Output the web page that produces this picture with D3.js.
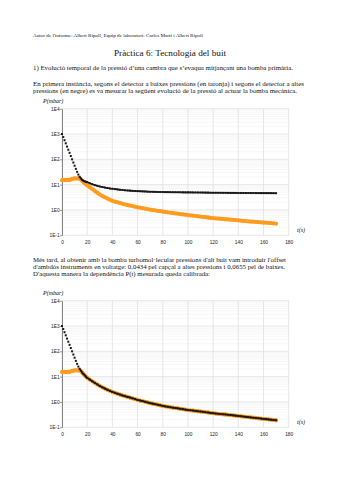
<!DOCTYPE html>
<html><head><meta charset="utf-8">
<script src="https://cdn.jsdelivr.net/npm/d3@7"></script>
<style>body{margin:0;background:#fff}svg{display:block}</style>
</head><body>
<svg id="c" width="339" height="480"></svg>
<script>
const times = [0,1,2,3,4,5,6,7,8,9,10,11,12,13,14,15,16,17,18,19,
20,22,24,26,28,30,32,34,36,38,40,42,44,46,48,50,52,54,56,58,60,62,64,66,68,70,72,74,76,78,80,82,84,86,88,90,92,94,96,98,100,102,104,106,108,110,112,114,116,118,120,122,124,126,128,130,132,134,136,138,140,142,144,146,148,150,152,154,156,158,160,162,164,166,168,170];
const black1 = [1000,760,570,430,320,240,180,135,100,75,56,42,32,25,20.5,17.5,15.5,14.3,13.5,13.0,
12.6,11.4,10.4,9.6,9.0,8.5,8.1,7.7,7.4,7.1,6.9,6.7,6.5,6.3,6.15,6.0,5.9,5.8,5.7,5.6,5.55,5.5,5.45,5.4,5.3,5.25,5.22,5.2,5.15,5.12,5.1,5.08,5.06,5.04,5.03,5.02,5.0,4.99,4.98,4.96,4.95,4.94,4.93,4.92,4.9,4.88,4.87,4.85,4.84,4.82,4.8,4.8,4.79,4.78,4.77,4.76,4.75,4.74,4.73,4.72,4.7,4.7,4.69,4.68,4.68,4.67,4.66,4.66,4.65,4.64,4.64,4.63,4.62,4.62,4.61,4.6];
const orange1 = [15.2,15.5,15.0,15.6,15.3,15.8,15.4,16.0,16.8,17.2,17.6,17.8,17.5,17.9,17.2,15.8,14.2,12.6,11.3,10.3,
9.4,7.9,6.7,5.7,4.85,4.1,3.6,3.2,2.85,2.55,2.3,2.15,2.02,1.9,1.77,1.65,1.57,1.5,1.42,1.35,1.28,1.23,1.18,1.13,1.08,1.04,1.0,0.97,0.93,0.9,0.87,0.84,0.81,0.79,0.76,0.74,0.72,0.69,0.67,0.65,0.63,0.61,0.6,0.58,0.565,0.55,0.535,0.52,0.505,0.49,0.48,0.47,0.46,0.45,0.44,0.43,0.422,0.414,0.406,0.398,0.39,0.382,0.374,0.366,0.358,0.35,0.344,0.338,0.332,0.326,0.32,0.314,0.308,0.302,0.296,0.29];
const black2 = [1000,760,570,430,320,240,180,135,100,75,56,42,32,25,20.5,17,14.6,12.8,11.3,10.0,
9.0,7.7,6.6,5.7,4.95,4.3,3.8,3.4,3.05,2.75,2.5,2.3,2.12,1.96,1.82,1.7,1.59,1.49,1.39,1.3,1.2,1.14,1.08,1.02,0.96,0.9,0.86,0.82,0.78,0.74,0.7,0.67,0.65,0.62,0.6,0.58,0.56,0.54,0.52,0.5,0.48,0.47,0.46,0.445,0.43,0.42,0.41,0.395,0.385,0.37,0.36,0.35,0.342,0.334,0.327,0.32,0.312,0.304,0.296,0.288,0.28,0.273,0.266,0.259,0.252,0.245,0.239,0.233,0.227,0.221,0.215,0.21,0.205,0.2,0.195,0.19];
const orange2 = [15.4,15.1,15.7,15.2,15.5,15.9,15.3,16.2,17.0,17.4,17.7,17.6,17.9,17.6,17.3,17,14.6,12.8,11.3,10.0,
9.0,7.7,6.6,5.7,4.95,4.3,3.8,3.4,3.05,2.75,2.5,2.3,2.12,1.96,1.82,1.7,1.59,1.49,1.39,1.3,1.2,1.14,1.08,1.02,0.96,0.9,0.86,0.82,0.78,0.74,0.7,0.67,0.65,0.62,0.6,0.58,0.56,0.54,0.52,0.5,0.48,0.47,0.46,0.445,0.43,0.42,0.41,0.395,0.385,0.37,0.36,0.35,0.342,0.334,0.327,0.32,0.312,0.304,0.296,0.288,0.28,0.273,0.266,0.259,0.252,0.245,0.239,0.233,0.227,0.221,0.215,0.21,0.205,0.2,0.195,0.19];
const yTickValues = [0.1,1,10,100,1000,10000];
const yTickLabels = ["1E-1","1E0","1E1","1E2","1E3","1E4"];
const xTickValues = [0,20,40,60,80,100,120,140,160,180];

const svg = d3.select("#c");
const serif = "'Liberation Serif','Times New Roman',serif";

function txt(x,y,s,size,w,opts={}){
  const t = svg.append("text").attr("x",x).attr("y",y).text(s)
    .attr("font-family",serif).attr("font-size",size).attr("fill","#111");
  if(w) t.attr("textLength",w).attr("lengthAdjust","spacingAndGlyphs");
  return t;
}

txt(33,36.5,"Autor de l'informe: Albert Ripoll, Equip de laboratori: Carles Martí i Albert Ripoll",3.6,170);
txt(114,55.5,"Pràctica 6: Tecnologia del buit",8.6,112);
txt(33,70,"1)  Evolució temporal de la pressió d’una cambra que s’evaqua mitjançant una bomba primària.",5.9,260);
txt(33,86,"En primera instància, segons el detector a baixes pressions (en taronja) i segons el detector a altes",5.9,271);
txt(33,92.8,"pressions (en negre) es va mesurar la següent evolució de la pressió al actuar la bomba mecànica.",5.9,264);
txt(33,262,"Més tard, al obtenir amb la bomba turbomol·lecular pressions d'alt buit vam introduir l'offset",5.9,253);
txt(33,268.8,"d'ambdós instruments en voltatge: 0,0434 pel capçal a altes pressions i 0,0655 pel de baixes.",5.9,252);
txt(33,275.6,"D'aquesta manera la dependència P(t) mesurada queda calibrada:",5.9,177);

const x = d3.scaleLinear().domain([0,180]).range([62,288.7]);

function chart(top, bottom, blk, org){
  const y = d3.scaleLog().domain([0.1,10000]).range([bottom, top]);
  const g = svg.append("g");
  const minors = [];
  for (const d of [0.1,1,10,100,1000]) for (let k=2;k<=9;k++) minors.push(d*k);
  g.append("g").selectAll("line").data(minors).join("line")
    .attr("x1",x(0)).attr("x2",x(180)).attr("y1",d=>y(d)).attr("y2",d=>y(d))
    .attr("stroke","#f1f1f1").attr("stroke-width",0.6);
  g.append("g").selectAll("line").data(yTickValues).join("line")
    .attr("x1",x(0)).attr("x2",x(180)).attr("y1",d=>y(d)).attr("y2",d=>y(d))
    .attr("stroke","#dcdcdc").attr("stroke-width",0.7);
  g.append("g").selectAll("line").data(xTickValues).join("line")
    .attr("x1",d=>x(d)).attr("x2",d=>x(d)).attr("y1",y(10000)).attr("y2",y(0.1))
    .attr("stroke","#dcdcdc").attr("stroke-width",0.7);
  const ya = d3.axisLeft(y).tickValues(yTickValues).tickFormat((d,i)=>yTickLabels[i]).tickSize(2).tickSizeOuter(0);
  const yg = g.append("g").attr("transform",`translate(${x(0)},0)`).call(ya);
  yg.select(".domain").attr("stroke","#555").attr("stroke-width",0.7);
  yg.selectAll(".tick line").attr("stroke","#555").attr("stroke-width",0.6);
  yg.selectAll("text").attr("font-family","'Liberation Sans',Arial,sans-serif").attr("font-size",4.8).attr("fill","#222").attr("x",-2.4).attr("dy","0.34em");
  const xa = d3.axisBottom(x).tickValues(xTickValues).tickSize(0).tickFormat(d3.format("d"));
  const xg = g.append("g").attr("transform",`translate(0,${bottom})`).call(xa);
  xg.select(".domain").remove();
  xg.selectAll("text").attr("font-family","'Liberation Sans',Arial,sans-serif").attr("font-size",4.8).attr("fill","#222").attr("dy","1.2em");
  const ptsO = times.map((t,i)=>[t,org[i]]);
  const ptsB = times.map((t,i)=>[t,blk[i]]);
  g.append("path").datum(ptsO).attr("fill","none").attr("stroke","#ffa02a").attr("stroke-width",3.8)
    .attr("stroke-linejoin","round").attr("stroke-linecap","round").attr("stroke-opacity",0.95)
    .attr("d",d3.line().x(d=>x(d[0])).y(d=>y(d[1])));
  g.append("g").selectAll("circle").data(ptsO).join("circle")
    .attr("cx",d=>x(d[0])).attr("cy",d=>y(d[1])).attr("r",1.9).attr("fill","#ff9b1e");
  g.append("path").datum(ptsB.filter(d=>d[0]>=14)).attr("fill","none").attr("stroke","#1a1a1a").attr("stroke-width",1.6)
    .attr("d",d3.line().x(d=>x(d[0])).y(d=>y(d[1])));
  g.append("g").selectAll("rect").data(ptsB).join("rect")
    .attr("x",d=>x(d[0])-1).attr("y",d=>y(d[1])-1).attr("width",2).attr("height",2).attr("fill","#1a1a1a");
  svg.append("text").attr("x",43).attr("y",top-6).attr("font-family",serif)
    .attr("font-size",6).attr("font-style","italic").attr("fill","#111").text("P(mbar)");
  svg.append("text").attr("x",297).attr("y",bottom-3).attr("font-family",serif)
    .attr("font-size",6).attr("font-style","italic").attr("fill","#111").text("t(s)");
}

chart(108.7, 235.3, black1, orange1);
chart(300.7, 427.3, black2, orange2);
</script>
</body></html>
